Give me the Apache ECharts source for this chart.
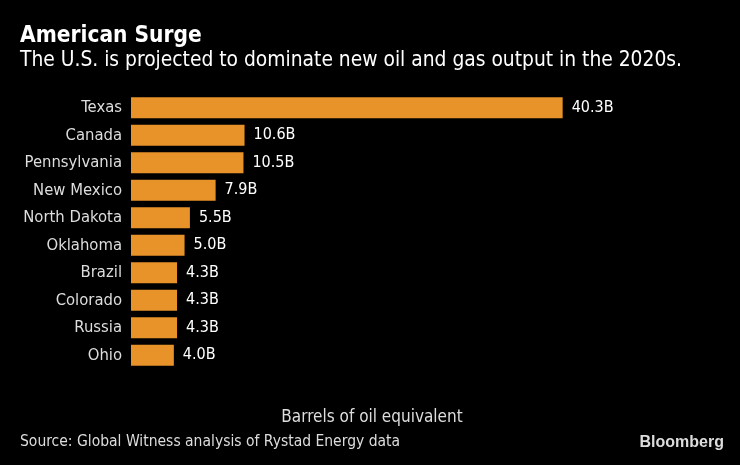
<!DOCTYPE html>
<html><head><meta charset="utf-8">
<script src="https://cdn.jsdelivr.net/npm/echarts@6/dist/echarts.min.js"></script>
<style>html,body{margin:0;padding:0;background:#000;}#c{width:740px;height:465px;}</style>
</head><body><div id="c"></div>
<script>
const categories = ["Texas","Canada","Pennsylvania","New Mexico","North Dakota","Oklahoma","Brazil","Colorado","Russia","Ohio"];
const values = [40.3,10.6,10.5,7.9,5.5,5.0,4.3,4.3,4.3,4.0];
const valueLabels = ["40.3B","10.6B","10.5B","7.9B","5.5B","5.0B","4.3B","4.3B","4.3B","4.0B"];
const FONT = "'DejaVu Sans Condensed','DejaVu Sans',sans-serif";
const chart = echarts.init(document.getElementById('c'));
chart.setOption({
  backgroundColor: '#000',
  animation: false,
  title: [
    {text: 'American Surge', left: 20, top: 25, padding: 0, textStyle: {color: '#fff', fontSize: 22.5, fontWeight: 'bold', fontFamily: FONT}},
    {text: 'The U.S. is projected to dominate new oil and gas output in the 2020s.', left: 20, top: 50, padding: 0, textStyle: {color: '#fff', fontSize: 20.8, fontWeight: 'normal', fontFamily: FONT}},
    {text: 'Source: Global Witness analysis of Rystad Energy data', left: 20, top: 434, padding: 0, textStyle: {color: '#ddd', fontSize: 15.5, fontWeight: 'normal', fontFamily: FONT}},
    {text: 'Bloomberg', right: 16, top: 435, padding: 0, textStyle: {color: '#ddd', fontSize: 16, fontWeight: 'bold', fontFamily: "'Liberation Sans Narrow','Liberation Sans',sans-serif"}}
  ],
  grid: {left: 131, right: 127, top: 94, bottom: 96},
  xAxis: {
    type: 'value', min: 0, max: 45,
    axisLine: {show: false}, axisTick: {show: false}, axisLabel: {show: false}, splitLine: {show: false},
    name: 'Barrels of oil equivalent', nameLocation: 'middle', nameGap: 40,
    nameTextStyle: {color: '#ddd', fontSize: 17, fontFamily: FONT}
  },
  yAxis: {
    type: 'category', data: categories, inverse: true,
    axisLine: {show: false}, axisTick: {show: false}, splitLine: {show: false},
    axisLabel: {color: '#ddd', fontSize: 16.5, fontFamily: FONT, margin: 9}
  },
  series: [{
    type: 'bar', data: values, barWidth: 21,
    itemStyle: {color: '#E8922A'},
    label: {show: true, position: 'right', distance: 9, color: '#fff', fontSize: 16, fontFamily: FONT,
      formatter: p => valueLabels[p.dataIndex]}
  }]
});
</script></body></html>
